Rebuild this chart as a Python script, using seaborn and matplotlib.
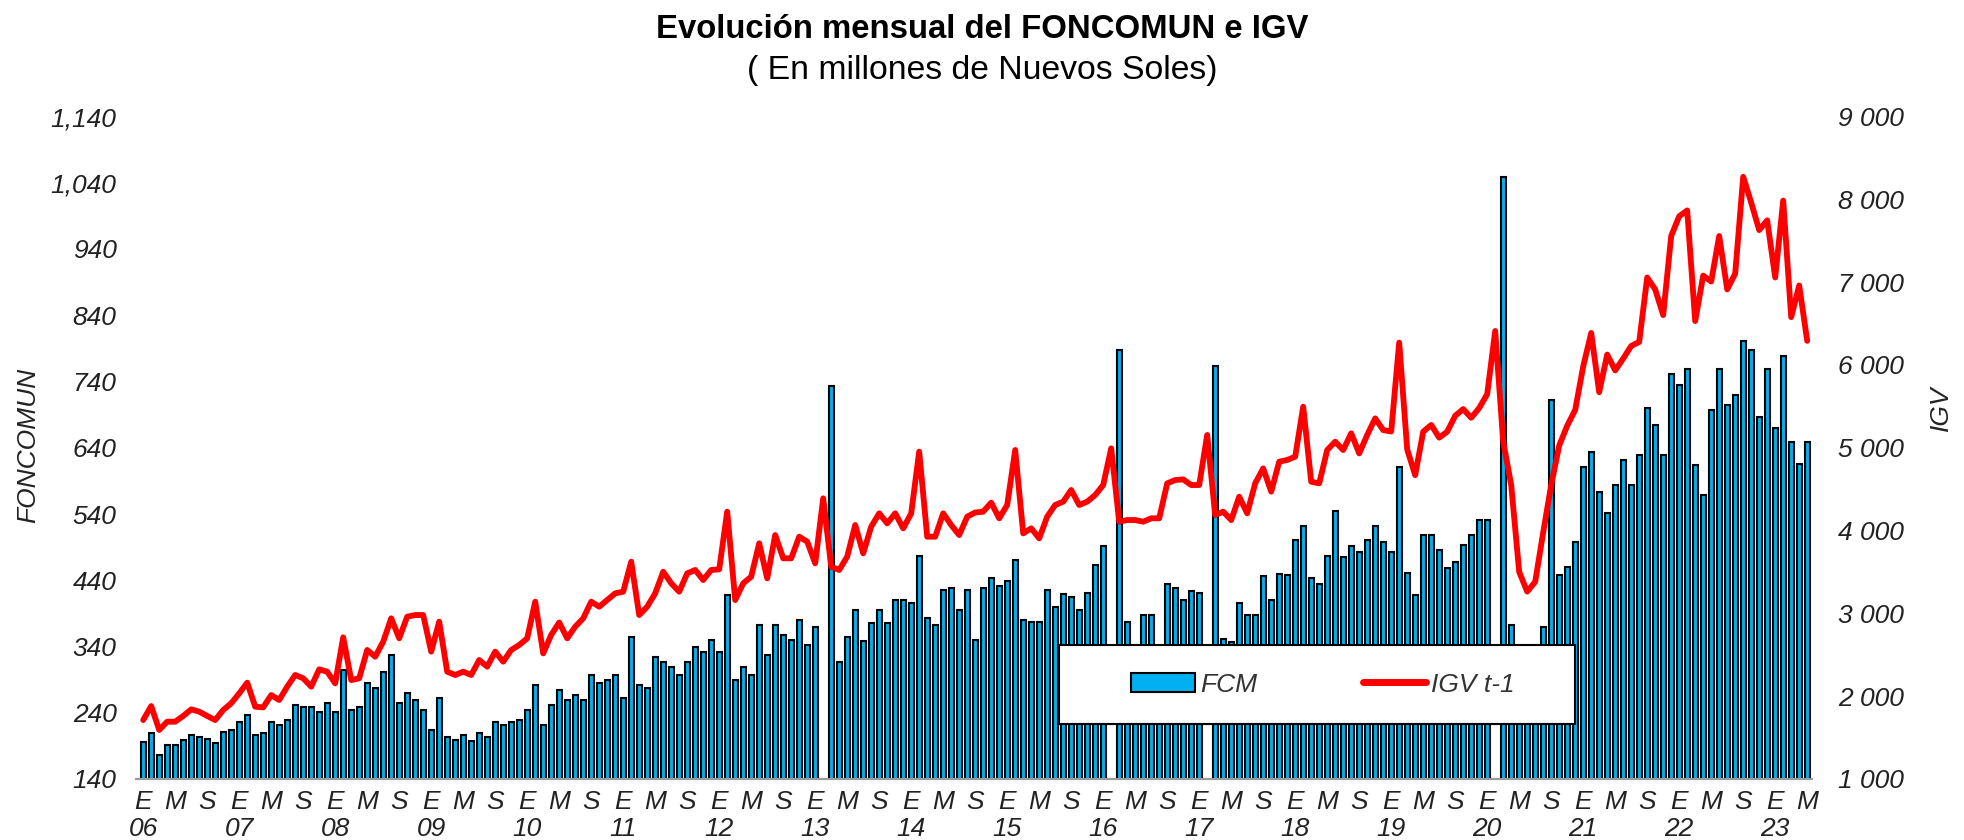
import numpy as np
import pandas as pd
import matplotlib
matplotlib.use("Agg")
import matplotlib.pyplot as plt
from matplotlib.patches import Patch, Rectangle
from matplotlib.lines import Line2D
from matplotlib.ticker import FuncFormatter, MultipleLocator
import seaborn as sns

sns.set_style("white")
plt.rcParams['font.family'] = ['Liberation Sans', 'DejaVu Sans']

# Monthly data, Jan 2006 - May 2023 (millones de soles)
years = list(range(2006, 2024))
month_letters = {0: "E", 4: "M", 8: "S"}

fcm = [
    196, 210, 176, 191, 191, 199, 206, 203, 200, 195, 211, 214,   # 2006
    226, 237, 206, 210, 226, 222, 229, 252, 248, 248, 241, 255,   # 2007
    241, 304, 244, 248, 285, 278, 301, 327, 255, 270, 259, 244,   # 2008
    214, 263, 203, 199, 206, 198, 210, 203, 226, 222, 226, 229,   # 2009
    244, 282, 222, 252, 274, 259, 267, 259, 297, 285, 289, 297,   # 2010
    262, 354, 282, 278, 324, 316, 309, 297, 316, 339, 331, 350,   # 2011
    331, 417, 289, 309, 297, 373, 327, 373, 357, 350, 380, 342,   # 2012
    369, 0, 733, 316, 354, 395, 349, 375, 395, 375, 410, 410,     # 2013
    405, 477, 383, 373, 425, 428, 395, 425, 350, 429, 444, 432,   # 2014
    439, 471, 380, 377, 377, 425, 399, 420, 414, 395, 421, 463,   # 2015
    492, 0, 787, 377, 320, 388, 388, 330, 435, 428, 410, 424,     # 2016
    421, 0, 763, 352, 347, 406, 388, 388, 447, 410, 450, 448,     # 2017
    501, 522, 444, 435, 477, 545, 475, 492, 482, 501, 522, 497,   # 2018
    483, 611, 451, 418, 508, 508, 485, 458, 468, 493, 508, 531,   # 2019
    531, 0, 1048, 372, 290, 270, 310, 369, 712, 448, 460, 497,    # 2020
    611, 633, 573, 542, 584, 621, 584, 629, 700, 675, 629, 752,   # 2021
    734, 759, 614, 569, 697, 759, 704, 720, 801, 787, 686, 759,   # 2022
    670, 778, 649, 615, 648,                                      # 2023
]

igv = [
    1712, 1881, 1592, 1692, 1692, 1761, 1841, 1813, 1761, 1712, 1833, 1914,
    2034, 2163, 1873, 1865, 2014, 1954, 2115, 2256, 2216, 2115, 2324, 2296,
    2155, 2711, 2195, 2216, 2558, 2477, 2658, 2940, 2699, 2960, 2980, 2980,
    2538, 2900, 2296, 2256, 2296, 2256, 2437, 2356, 2538, 2417, 2558, 2618,
    2699, 3141, 2517, 2740, 2890, 2699, 2839, 2940, 3141, 3081, 3161, 3242,
    3262, 3624, 2980, 3081, 3242, 3503, 3363, 3262, 3483, 3524, 3403, 3524,
    3532, 4228, 3161, 3363, 3443, 3846, 3423, 3946, 3665, 3665, 3926, 3866,
    3604, 4389, 3564, 3524, 3685, 4067, 3725, 4047, 4208, 4087, 4208, 4027,
    4208, 4953, 3926, 3926, 4208, 4067, 3946, 4168, 4218, 4228, 4337, 4148,
    4309, 4973, 3966, 4027, 3906, 4168, 4309, 4349, 4490, 4309, 4349, 4429,
    4550, 4993, 4107, 4127, 4127, 4107, 4148, 4148, 4570, 4610, 4618, 4550,
    4550, 5154, 4188, 4228, 4127, 4409, 4208, 4570, 4751, 4470, 4832, 4852,
    4892, 5496, 4590, 4570, 4973, 5073, 4973, 5174, 4932, 5154, 5355, 5214,
    5196, 6270, 4979, 4669, 5194, 5275, 5122, 5194, 5386, 5467, 5362, 5480,
    5647, 6410, 5075, 4550, 3501, 3263, 3381, 3978, 4550, 5027, 5266, 5457,
    5982, 6386, 5671, 6125, 5934, 6077, 6229, 6278, 7056, 6912, 6602, 7557,
    7795, 7866, 6530, 7079, 7007, 7557, 6912, 7103, 8272, 7961, 7628, 7746,
    7056, 7985, 6577, 6960, 6291,
]

n = len(fcm)
df = pd.DataFrame({"idx": np.arange(n), "FCM": fcm, "IGV": igv})

# tick labels: E / M / S every four months, year under each January
tick_pos = list(range(0, n, 4))
tick_lab = []
for i in tick_pos:
    lab = month_letters[i % 12]
    if i % 12 == 0:
        lab += "\n" + str(years[i // 12])[2:]
    tick_lab.append(lab)

W, H = 1965, 840
fig = plt.figure(figsize=(W / 100, H / 100), dpi=100)
ax = fig.add_axes([136 / W, 1 - 779 / H, 1676 / W, (779 - 116.5) / H])

sns.barplot(data=df, x="idx", y="FCM", native_scale=True, width=0.66,
            color="#00B0F0", saturation=1, edgecolor="black", linewidth=1.5,
            errorbar=None, ax=ax)

ax2 = ax.twinx()
sns.lineplot(data=df, x="idx", y="IGV", color="#FF0000", linewidth=4.2,
             ax=ax2, legend=False)

ax.set_xlim(-0.9, n - 0.4)
ax.set_ylim(140, 1140)
ax2.set_ylim(1000, 9000)

txt = "#222222"
ax.set_yticks(range(140, 1141, 100))
ax.yaxis.set_major_formatter(FuncFormatter(lambda v, p: f"{v:,.0f}"))
ax2.set_yticks(range(1000, 9001, 1000))
ax2.yaxis.set_major_formatter(FuncFormatter(lambda v, p: f"{v:,.0f}".replace(",", " ")))

ax.set_xticks(tick_pos)
ax.set_xticklabels(tick_lab, fontsize=19, style="italic", color=txt, linespacing=1.15)
ax.xaxis.set_minor_locator(MultipleLocator(1))
ax.tick_params(axis="x", which="both", direction="out", length=5, width=1,
               color="#9a9a9a", pad=3)
ax.tick_params(axis="y", length=0, pad=14, labelsize=19, labelcolor=txt)
ax2.tick_params(axis="y", length=0, pad=18.5, labelsize=19, labelcolor=txt)
for lab in ax.get_yticklabels() + ax2.get_yticklabels():
    lab.set_style("italic")

for a in (ax, ax2):
    for s in ("top", "left", "right"):
        a.spines[s].set_visible(False)
    a.spines["bottom"].set_color("#9a9a9a")
    a.spines["bottom"].set_linewidth(1.5)
    a.grid(False)
ax.set_xlabel("")
ax.set_ylabel("")
ax2.set_ylabel("")
ax2.set_xlabel("")

fig.text(28 / W, 1 - 445 / H, "FONCOMUN", rotation=90, ha="center", va="center",
         fontsize=19, style="italic", color=txt)
fig.text(1941 / W, 1 - 408 / H, "IGV", rotation=90, ha="center", va="center",
         fontsize=19, style="italic", color=txt)

fig.text(0.5, 1 - 29 / H, "Evolución mensual del FONCOMUN e IGV", ha="center",
         va="center", fontsize=23.7, fontweight="bold", color="black")
fig.text(0.5, 1 - 70 / H, "( En millones de Nuevos Soles)", ha="center",
         va="center", fontsize=24.3, color="black")

# legend: white box drawn over the plot, entries without their own frame
box = Rectangle((1059 / W, 1 - 724 / H), (1575 - 1059) / W, (724 - 645) / H,
                transform=fig.transFigure, facecolor="white", edgecolor="black",
                linewidth=1.5, zorder=8)
ax2.add_patch(box)
handles = [Patch(facecolor="#00B0F0", edgecolor="black", linewidth=1.5, label="FCM"),
           Line2D([0], [0], color="#FF0000", linewidth=5, label="IGV t-1")]
leg = ax2.legend(handles=handles, loc="center", ncol=2,
                 bbox_to_anchor=(1323 / W, 1 - 684.5 / H), bbox_transform=fig.transFigure,
                 frameon=False, prop={"size": 19, "style": "italic"}, handlelength=2.4,
                 handletextpad=0.2, columnspacing=4.0)
for t in leg.get_texts():
    t.set_color("#333333")
leg.set_zorder(10)

fig.savefig("out.png", dpi=100)
